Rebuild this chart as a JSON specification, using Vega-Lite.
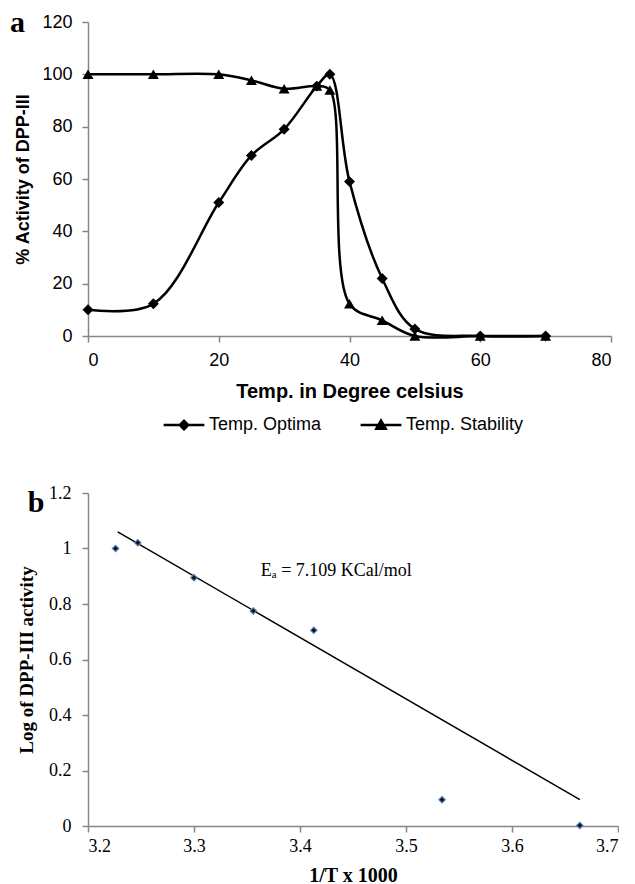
{
  "$schema": "https://vega.github.io/schema/vega-lite/v6.json",
  "padding": {"left": 9, "top": 8, "right": 0, "bottom": 0},
  "spacing": 157,
  "bounds": "flush",
  "datasets": {
    "temp": [
      {"temp": 0, "activity": 10, "series": "Temp. Optima"},
      {"temp": 10, "activity": 12.3, "series": "Temp. Optima"},
      {"temp": 20, "activity": 51, "series": "Temp. Optima"},
      {"temp": 25, "activity": 69, "series": "Temp. Optima"},
      {"temp": 30, "activity": 79, "series": "Temp. Optima"},
      {"temp": 35, "activity": 95.5, "series": "Temp. Optima"},
      {"temp": 37, "activity": 100, "series": "Temp. Optima"},
      {"temp": 40, "activity": 59, "series": "Temp. Optima"},
      {"temp": 45, "activity": 22, "series": "Temp. Optima"},
      {"temp": 50, "activity": 2.7, "series": "Temp. Optima"},
      {"temp": 60, "activity": 0, "series": "Temp. Optima"},
      {"temp": 70, "activity": 0, "series": "Temp. Optima"},
      {"temp": 0, "activity": 100, "series": "Temp. Stability"},
      {"temp": 10, "activity": 100, "series": "Temp. Stability"},
      {"temp": 20, "activity": 100, "series": "Temp. Stability"},
      {"temp": 25, "activity": 97.7, "series": "Temp. Stability"},
      {"temp": 30, "activity": 94.5, "series": "Temp. Stability"},
      {"temp": 35, "activity": 95.5, "series": "Temp. Stability"},
      {"temp": 37, "activity": 94, "series": "Temp. Stability"},
      {"temp": 40, "activity": 12.3, "series": "Temp. Stability"},
      {"temp": 45, "activity": 6, "series": "Temp. Stability"},
      {"temp": 50, "activity": 0, "series": "Temp. Stability"},
      {"temp": 60, "activity": 0, "series": "Temp. Stability"},
      {"temp": 70, "activity": 0, "series": "Temp. Stability"}
    ],
    "panelA": [
      {"temp": -10.8, "activity": 119.5, "label": "a"}
    ],
    "panelB": [
      {"invT": 3.151, "logact": 1.164, "label": "b"}
    ],
    "arr": [
      {"invT": 3.226, "logact": 1.0},
      {"invT": 3.247, "logact": 1.021},
      {"invT": 3.300, "logact": 0.895},
      {"invT": 3.356, "logact": 0.775},
      {"invT": 3.413, "logact": 0.705},
      {"invT": 3.534, "logact": 0.095},
      {"invT": 3.664, "logact": 0.002}
    ],
    "trend": [
      {"invT": 3.228, "logact": 1.06},
      {"invT": 3.664, "logact": 0.095}
    ],
    "note": [
      {"invT": 3.363, "logact": 0.92, "label": "Eₐ = 7.109 KCal/mol"}
    ]
  },
  "config": {
    "view": {"stroke": null},
    "axis": {
      "grid": false,
      "domainColor": "#868686",
      "tickColor": "#868686",
      "domainWidth": 1.5,
      "tickWidth": 1.5,
      "tickSize": 6,
      "labelColor": "#000000",
      "titleColor": "#000000"
    }
  },
  "vconcat": [
    {
      "width": 523,
      "height": 314,
      "resolve": {"scale": {"shape": "independent"}, "legend": {"shape": "independent"}},
      "layer": [
        {
          "data": {"name": "temp"},
          "mark": {"type": "line", "interpolate": "catmull-rom", "strokeWidth": 2.5},
          "encoding": {
            "x": {"field": "temp", "type": "quantitative", "scale": {"domain": [0, 80]}, "axis": {"values": [0, 20, 40, 60, 80], "title": "Temp. in Degree celsius", "labelFont": "Liberation Sans", "labelFontSize": 18, "labelPadding": 9, "titleFont": "Liberation Sans", "titleFontSize": 20, "titleFontWeight": "bold", "titlePadding": 12}},
            "y": {"field": "activity", "type": "quantitative", "scale": {"domain": [0, 120]}, "axis": {"values": [0, 20, 40, 60, 80, 100, 120], "title": "% Activity of DPP-III", "labelFont": "Liberation Sans", "labelFontSize": 18, "labelPadding": 10, "titleFont": "Liberation Sans", "titleFontSize": 18, "titleFontWeight": "bold", "titlePadding": 9}},
            "color": {"field": "series", "type": "nominal", "scale": {"range": ["#000000", "#000000"]}, "legend": null}
          }
        },
        {
          "data": {"name": "temp"},
          "mark": {"type": "point", "filled": true, "opacity": 1, "color": "#000000", "size": 120},
          "encoding": {
            "x": {"field": "temp", "type": "quantitative"},
            "y": {"field": "activity", "type": "quantitative"},
            "shape": {"field": "series", "type": "nominal", "scale": {"range": ["diamond", "triangle-up"]}, "legend": null}
          }
        },
        {
          "data": {"name": "temp"},
          "mark": {"type": "point", "filled": true, "color": "#000000", "opacity": 0, "size": 120},
          "encoding": {
            "x": {"field": "temp", "type": "quantitative"},
            "y": {"field": "activity", "type": "quantitative"},
            "shape": {
              "field": "series", "type": "nominal",
              "scale": {"range": ["M-3.4,-0.2H3.4V0.2H-3.4ZM0,-1L1,0L0,1L-1,0Z", "M-3.4,-0.2H3.4V0.2H-3.4ZM0,-1.15L1.15,0.85L-1.15,0.85Z"]},
              "legend": {
                "title": null,
                "orient": "none",
                "legendX": 87,
                "legendY": 394,
                "direction": "horizontal",
                "labelFont": "Liberation Sans",
                "labelFontSize": 18,
                "labelColor": "#000000",
                "symbolSize": 144,
                "symbolOpacity": 1,
                "symbolFillColor": "#000000",
                "labelOffset": 16,
                "columnPadding": 35
              }
            }
          }
        },
        {
          "data": {"name": "panelA"},
          "mark": {"type": "text", "font": "Liberation Serif", "fontSize": 30, "fontWeight": "bold", "color": "#000000", "align": "center", "baseline": "middle"},
          "encoding": {
            "x": {"field": "temp", "type": "quantitative"},
            "y": {"field": "activity", "type": "quantitative"},
            "text": {"field": "label"}
          }
        }
      ]
    },
    {
      "width": 530,
      "height": 333,
      "layer": [
        {
          "data": {"name": "trend"},
          "mark": {"type": "line", "color": "#000000", "strokeWidth": 1.5},
          "encoding": {
            "x": {"field": "invT", "type": "quantitative", "scale": {"domain": [3.2, 3.7], "zero": false}, "axis": {"values": [3.2, 3.3, 3.4, 3.5, 3.6, 3.7], "format": ".1f", "title": "1/T x 1000", "labelFont": "Liberation Serif", "labelFontSize": 18, "labelPadding": 5, "titleFont": "Liberation Serif", "titleFontSize": 20, "titleFontWeight": "bold", "titlePadding": 10}},
            "y": {"field": "logact", "type": "quantitative", "scale": {"domain": [0, 1.2]}, "axis": {"values": [0, 0.2, 0.4, 0.6, 0.8, 1, 1.2], "format": "~g", "title": "Log of DPP-III activity", "labelFont": "Liberation Serif", "labelFontSize": 18, "labelPadding": 11, "titleFont": "Liberation Serif", "titleFontSize": 19, "titleFontWeight": "bold", "titlePadding": 12}}
          }
        },
        {
          "data": {"name": "arr"},
          "mark": {"type": "point", "shape": "diamond", "filled": true, "size": 40, "color": "#111111", "stroke": "#4f81bd", "strokeWidth": 1.2, "opacity": 1},
          "encoding": {
            "x": {"field": "invT", "type": "quantitative"},
            "y": {"field": "logact", "type": "quantitative"}
          }
        },
        {
          "data": {"name": "note"},
          "mark": {"type": "text", "align": "left", "baseline": "middle", "font": "Liberation Serif", "fontSize": 18, "color": "#000000"},
          "encoding": {
            "x": {"field": "invT", "type": "quantitative"},
            "y": {"field": "logact", "type": "quantitative"},
            "text": {"field": "label"}
          }
        },
        {
          "data": {"name": "panelB"},
          "mark": {"type": "text", "font": "Liberation Serif", "fontSize": 30, "fontWeight": "bold", "color": "#000000", "align": "center", "baseline": "middle"},
          "encoding": {
            "x": {"field": "invT", "type": "quantitative"},
            "y": {"field": "logact", "type": "quantitative"},
            "text": {"field": "label"}
          }
        }
      ]
    }
  ]
}
